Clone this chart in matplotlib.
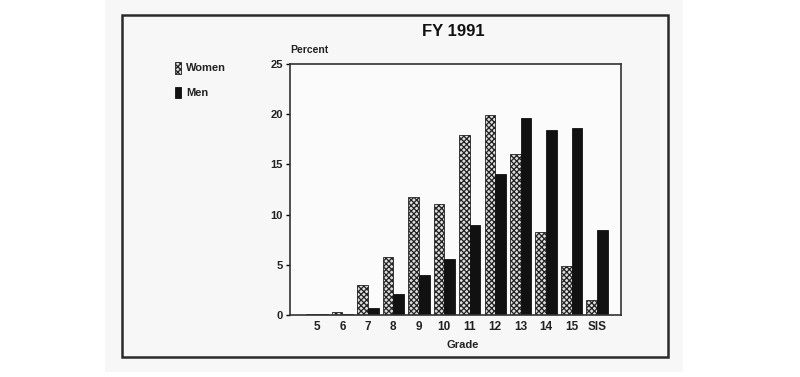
import matplotlib
matplotlib.use("Agg")
import matplotlib.pyplot as plt
from matplotlib.patches import Rectangle
import numpy as np

plt.rcParams['font.family'] = ['Liberation Sans', 'DejaVu Sans']
plt.rcParams['hatch.linewidth'] = 0.9

grades = ["5", "6", "7", "8", "9", "10", "11", "12", "13", "14", "15", "SIS"]
women = [0.05, 0.3, 3.0, 5.8, 11.8, 11.1, 17.9, 19.9, 16.0, 8.3, 4.9, 1.5]
men = [0.1, 0.1, 0.7, 2.1, 4.0, 5.6, 9.0, 14.0, 19.6, 18.4, 18.6, 8.5]
yticks = [0, 5, 10, 15, 20, 25]

W, H = 800, 377
fig = plt.figure(figsize=(8, 3.77), dpi=100)
fig.patch.set_facecolor("white")

def fx(px):
    return px / W

def fy(py):
    return 1 - py / H

# paper background and frame
fig.patches.append(Rectangle((fx(105), fy(372)), fx(683) - fx(105), fy(0) - fy(372),
                             transform=fig.transFigure, facecolor="#f7f7f7",
                             edgecolor="none", zorder=-2))
fig.patches.append(Rectangle((fx(122), fy(357)), fx(668) - fx(122), fy(15) - fy(357),
                             transform=fig.transFigure, facecolor="none",
                             edgecolor="#2a2a2a", linewidth=1.8, zorder=-1))

ax = fig.add_axes([fx(290), fy(315), fx(621) - fx(290), fy(64) - fy(315)])
ax.set_zorder(3)
ax.set_facecolor("#fbfbfb")

x = np.arange(len(grades))
bw = 0.42
ax.bar(x - bw / 2, women, bw, facecolor="#dddddd", edgecolor="#222222",
       hatch="xxxxxx", linewidth=0.6, label="Women")
ax.bar(x + bw / 2, men, bw, facecolor="#111111", edgecolor="#111111",
       linewidth=0.6, label="Men")

ax.set_xlim(-1.06, 11.94)
ax.set_ylim(0, 25)
ax.set_yticks(yticks)
ax.set_xticks(x)
ax.set_xticklabels(grades)
ax.tick_params(axis="y", direction="out", length=3, width=1, pad=2,
               labelsize=8)
ax.tick_params(axis="x", length=0, pad=4, labelsize=8.5)
for lab in ax.get_xticklabels() + ax.get_yticklabels():
    lab.set_fontweight("bold")
    lab.set_color("#222222")
for sp in ax.spines.values():
    sp.set_color("#333333")
    sp.set_linewidth(1.2)

fig.text(fx(453), fy(31), "FY 1991", ha="center", va="center",
         fontsize=12, fontweight="bold", color="#111111")
fig.text(fx(290), fy(50), "Percent", ha="left", va="center",
         fontsize=7.5, fontweight="bold", color="#222222")
fig.text(fx(463), fy(345), "Grade", ha="center", va="center",
         fontsize=8, fontweight="bold", color="#222222")

# legend
fig.patches.append(Rectangle((fx(175), fy(74)), fx(181) - fx(175), fy(62) - fy(74),
                             transform=fig.transFigure, facecolor="#dddddd",
                             edgecolor="#222222", hatch="xxxxxx", linewidth=0.6))
fig.patches.append(Rectangle((fx(175), fy(98)), fx(181) - fx(175), fy(87) - fy(98),
                             transform=fig.transFigure, facecolor="#111111",
                             edgecolor="#111111", linewidth=0.6))
fig.text(fx(186), fy(68), "Women", ha="left", va="center", fontsize=8,
         fontweight="bold", color="#222222")
fig.text(fx(186), fy(93), "Men", ha="left", va="center", fontsize=8,
         fontweight="bold", color="#222222")

fig.savefig("out.png", dpi=100, facecolor=fig.get_facecolor())
